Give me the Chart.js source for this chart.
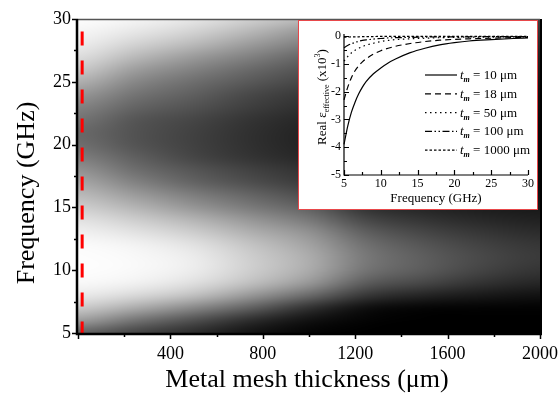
<!DOCTYPE html>
<html>
<head>
<meta charset="utf-8">
<script src="https://cdn.jsdelivr.net/npm/chart.js@4.4.1/dist/chart.umd.min.js"></script>
<style>
  html, body { margin: 0; padding: 0; background: #fff; }
  #wrap { position: relative; width: 560px; height: 396px; }
  #inset { position: absolute; left: 298px; top: 20px; width: 238px; height: 188px; border: 1px solid #e8474a; background: #fff; }
  canvas { display: block; }
</style>
</head>
<body>
<div id="wrap">
  <canvas id="mainChart" width="560" height="396"></canvas>
  <div id="inset"><canvas id="insetChart" width="238" height="188"></canvas></div>
</div>
<script>
// main map: gray level (0 black .. 255 white) per thickness column, rows are frequencies 5..30 GHz
const thickness = [0, 250, 500, 750, 1000, 1250, 1500, 1750, 2000];
const frequency = [5, 6, 7, 8, 9, 10, 11, 12, 13, 14, 15, 16, 17, 18, 19, 20, 21, 22, 23, 24, 25, 26, 27, 28, 29, 30];
const gray = [
    [100, 155, 200, 232, 248, 253, 253, 250, 240, 225, 205, 185, 165, 145, 125, 110, 105, 115, 130, 150, 175, 200, 220, 235, 245, 252],
    [70, 115, 170, 215, 240, 248, 248, 242, 226, 205, 180, 155, 130, 110, 95, 84, 82, 86, 100, 116, 135, 158, 185, 210, 230, 243],
    [45, 80, 135, 190, 222, 235, 235, 225, 205, 180, 150, 125, 100, 85, 70, 65, 65, 70, 82, 95, 110, 130, 155, 185, 210, 228],
    [20, 45, 95, 150, 190, 205, 205, 195, 175, 150, 122, 100, 78, 65, 52, 48, 48, 52, 62, 72, 88, 105, 128, 155, 182, 205],
    [5, 18, 50, 105, 150, 170, 172, 162, 145, 120, 95, 75, 58, 48, 38, 34, 34, 38, 46, 55, 68, 82, 100, 125, 150, 180],
    [0, 4, 16, 55, 92, 115, 120, 112, 95, 72, 50, 40, 32, 26, 22, 20, 20, 24, 30, 38, 48, 60, 75, 95, 118, 140],
    [0, 0, 6, 36, 70, 90, 93, 85, 70, 52, 36, 28, 22, 18, 15, 14, 14, 16, 20, 26, 34, 44, 56, 70, 88, 105],
    [0, 0, 4, 25, 50, 67, 72, 66, 54, 40, 28, 20, 16, 13, 11, 10, 10, 12, 15, 20, 26, 33, 42, 52, 64, 78],
    [0, 0, 3, 18, 38, 52, 58, 54, 44, 33, 24, 16, 12, 10, 8, 8, 8, 9, 12, 15, 20, 26, 32, 40, 50, 60]
];
const markerThickness = 18;
const markerFreq = [29, 5];

// inset: real effective permittivity (x10^3) vs frequency
const insetFreq = [5, 5.5, 6, 6.5, 7, 7.5, 8, 9, 10, 11, 12, 14, 16, 18, 20, 22, 25, 28, 30];
const eps10 = [-3.9, -3.25, -2.75, -2.38, -2.08, -1.84, -1.64, -1.36, -1.15, -0.97, -0.83, -0.6, -0.44, -0.32, -0.24, -0.18, -0.13, -0.09, -0.07];
const eps18 = [-2.3, -1.85, -1.5, -1.25, -1.07, -0.93, -0.82, -0.65, -0.53, -0.44, -0.37, -0.27, -0.2, -0.15, -0.12, -0.1, -0.08, -0.06, -0.05];
const eps50 = [-0.9, -0.74, -0.61, -0.51, -0.44, -0.38, -0.33, -0.26, -0.2, -0.16, -0.13, -0.1, -0.08, -0.06, -0.05, -0.04, -0.04, -0.03, -0.03];
const eps100 = [-0.42, -0.34, -0.28, -0.23, -0.19, -0.16, -0.14, -0.11, -0.09, -0.07, -0.06, -0.05, -0.04, -0.03, -0.03, -0.03, -0.02, -0.02, -0.02];
const eps1000 = [-0.04, -0.04, -0.03, -0.03, -0.03, -0.02, -0.02, -0.02, -0.01, -0.01, -0.01, -0.01, -0.01, -0.01, -0.01, -0.01, -0.01, -0.01, -0.01];
const insetLabels = ['10', '18', '50', '100', '1000'];

const SERIF = "'Liberation Serif', 'Times New Roman', serif";

function locate(arr, v) {
    const n = arr.length - 1;
    if (v <= arr[0]) return [0, 0];
    if (v >= arr[n]) return [n - 1, 1];
    let i = 0;
    while (arr[i + 1] < v) i++;
    return [i, (v - arr[i]) / (arr[i + 1] - arr[i])];
}

function cubic(p0, p1, p2, p3, t) {
    return p1 + 0.5 * t * (p2 - p0 + t * (2 * p0 - 5 * p1 + 4 * p2 - p3 + t * (3 * (p1 - p2) + p3 - p0)));
}

function sampleGray(t, f) {
    const [ci, cu] = locate(thickness, t);
    const [ri, rv] = locate(frequency, f);
    const nc = thickness.length - 1, nr = frequency.length - 1;
    const col = k => gray[Math.max(0, Math.min(nc, k))];
    const rowVal = c => {
        const r = k => c[Math.max(0, Math.min(nr, k))];
        return cubic(r(ri - 1), r(ri), r(ri + 1), r(ri + 2), rv);
    };
    const v = cubic(rowVal(col(ci - 1)), rowVal(col(ci)), rowVal(col(ci + 1)), rowVal(col(ci + 2)), cu);
    return Math.max(0, Math.min(255, v));
}

// keep the plot area where the reference has it
function noScalePadding(s) {
    s.paddingLeft = 0; s.paddingRight = 0; s.paddingTop = 0; s.paddingBottom = 0;
}

const heatmapPlugin = {
    id: 'heatmap',
    beforeDraw(chart) {
        const area = chart.chartArea;
        const xs = chart.scales.x, ys = chart.scales.y;
        const w = Math.round(area.right - area.left), h = Math.round(area.bottom - area.top);
        const off = document.createElement('canvas');
        off.width = w; off.height = h;
        const octx = off.getContext('2d');
        const img = octx.createImageData(w, h);
        for (let j = 0; j < h; j++) {
            const f = ys.getValueForPixel(area.top + j + 0.5);
            for (let i = 0; i < w; i++) {
                const t = xs.getValueForPixel(area.left + i + 0.5);
                const g = sampleGray(t, f);
                const k = (j * w + i) * 4;
                img.data[k] = g; img.data[k + 1] = g; img.data[k + 2] = g; img.data[k + 3] = 255;
            }
        }
        octx.putImageData(img, 0, 0);
        chart.ctx.drawImage(off, area.left, area.top);
    },
    afterDraw(chart) {
        const ctx = chart.ctx;
        const area = chart.chartArea;
        const xs = chart.scales.x, ys = chart.scales.y;
        ctx.save();
        ctx.strokeStyle = '#000';
        ctx.lineWidth = 1.5;
        ctx.beginPath();
        for (let v = 0; v <= 2000; v += 200) {
            const px = Math.round(xs.getPixelForValue(v)) + 0.5;
            const len = v % 400 === 0 ? 6 : 4;
            ctx.moveTo(px, area.bottom);
            ctx.lineTo(px, area.bottom + len);
        }
        for (let v = 5; v <= 30; v += 2.5) {
            const py = Math.round(ys.getPixelForValue(v)) + 0.5;
            const len = v % 5 === 0 ? 6 : 4;
            ctx.moveTo(area.left, py);
            ctx.lineTo(area.left - len, py);
        }
        ctx.stroke();
        // frame
        ctx.lineWidth = 1.5;
        ctx.strokeStyle = '#555';
        ctx.beginPath();
        ctx.moveTo(area.left, area.top + 0.5);
        ctx.lineTo(area.right, area.top + 0.5);
        ctx.stroke();
        ctx.strokeStyle = '#000';
        ctx.lineWidth = 2;
        ctx.beginPath();
        ctx.moveTo(area.right + 1, area.top);
        ctx.lineTo(area.right + 1, area.bottom);
        ctx.stroke();
        ctx.lineWidth = 2.5;
        ctx.beginPath();
        ctx.moveTo(area.left - 1, area.top);
        ctx.lineTo(area.left - 1, area.bottom + 1);
        ctx.lineTo(area.right + 2, area.bottom + 1);
        ctx.stroke();
        // axis titles
        ctx.fillStyle = '#000';
        ctx.font = '26px ' + SERIF;
        ctx.textAlign = 'center';
        ctx.textBaseline = 'middle';
        ctx.fillText('Metal mesh thickness (\u03bcm)', 307, 380);
        ctx.translate(27, 193);
        ctx.rotate(-Math.PI / 2);
        ctx.fillText('Frequency (GHz)', 0, 0);
        ctx.restore();
    }
};

new Chart(document.getElementById('mainChart'), {
    type: 'scatter',
    data: {
        datasets: [{
            label: 'marker',
            data: markerFreq.map(f => ({ x: markerThickness, y: f })),
            showLine: true,
            borderColor: '#ff0000',
            borderWidth: 3,
            borderDash: [14, 15],
            pointRadius: 0
        }]
    },
    options: {
        responsive: false,
        animation: false,
        layout: { padding: { left: 0, right: 20, top: 19, bottom: 0 } },
        scales: {
            x: {
                type: 'linear', min: 0, max: 2000,
                grid: { display: false, drawTicks: false },
                border: { display: false },
                afterFit: s => { s.height = 63; noScalePadding(s); },
                ticks: {
                    stepSize: 200, autoSkip: false, maxRotation: 0, padding: 10,
                    color: '#000', font: { family: SERIF, size: 18 },
                    callback: v => (v % 400 === 0 && v !== 0) ? String(v) : ''
                }
            },
            y: {
                type: 'linear', min: 5, max: 30,
                grid: { display: false, drawTicks: false },
                border: { display: false },
                afterFit: s => { s.width = 78; noScalePadding(s); },
                ticks: {
                    stepSize: 2.5, autoSkip: false, padding: 7,
                    color: '#000', font: { family: SERIF, size: 18 },
                    callback: v => v % 5 === 0 ? String(v) : ''
                }
            }
        },
        plugins: { legend: { display: false }, tooltip: { enabled: false } }
    },
    plugins: [heatmapPlugin]
});

// inset
const insetStyles = [
    { data: eps10, dash: [] },
    { data: eps18, dash: [6, 4] },
    { data: eps50, dash: [1.5, 3.5] },
    { data: eps100, dash: [7, 2.5, 1.5, 2.5, 1.5, 2.5] },
    { data: eps1000, dash: [2.5, 2] }
];

const insetDeco = {
    id: 'insetDeco',
    afterDraw(chart) {
        const ctx = chart.ctx;
        const area = chart.chartArea;
        const xs = chart.scales.x, ys = chart.scales.y;
        ctx.save();
        ctx.strokeStyle = '#000';
        ctx.lineWidth = 1.2;
        ctx.beginPath();
        ctx.moveTo(area.left, area.top - 2);
        ctx.lineTo(area.left, area.bottom);
        ctx.lineTo(area.right, area.bottom);
        for (let v = 5; v <= 30; v += 2.5) {
            const px = Math.round(xs.getPixelForValue(v)) + 0.5;
            const len = v % 5 === 0 ? 5 : 3;
            ctx.moveTo(px, area.bottom);
            ctx.lineTo(px, area.bottom - len);
        }
        for (let v = -5; v <= 0; v += 0.5) {
            const py = Math.round(ys.getPixelForValue(v)) + 0.5;
            const len = Number.isInteger(v) ? 5 : 3;
            ctx.moveTo(area.left, py);
            ctx.lineTo(area.left + len, py);
        }
        ctx.stroke();

        ctx.fillStyle = '#000';
        ctx.textBaseline = 'alphabetic';
        // x title
        ctx.font = '13px ' + SERIF;
        ctx.textAlign = 'center';
        ctx.fillText('Frequency (GHz)', (area.left + area.right) / 2, 181);

        // y title, rotated, with subscript and superscript
        const parts = [
            { t: 'Real \u03b5', f: '13px ' + SERIF, dy: 0 },
            { t: 'effective', f: '8px ' + SERIF, dy: 3 },
            { t: ' (x10', f: '13px ' + SERIF, dy: 0 },
            { t: '3', f: '8px ' + SERIF, dy: -6 },
            { t: ')', f: '13px ' + SERIF, dy: 0 }
        ];
        let total = 0;
        parts.forEach(p => { ctx.font = p.f; p.w = ctx.measureText(p.t).width; total += p.w; });
        ctx.translate(23, 76);
        ctx.rotate(-Math.PI / 2);
        ctx.textAlign = 'left';
        let cx = -total / 2;
        parts.forEach(p => { ctx.font = p.f; ctx.fillText(p.t, cx, 4 + p.dy); cx += p.w; });
        ctx.setTransform(1, 0, 0, 1, 0, 0);

        // legend
        insetStyles.forEach((s, i) => {
            const y = 54 + i * 18.8;
            ctx.setLineDash(s.dash);
            ctx.lineWidth = 1.2;
            ctx.beginPath();
            ctx.moveTo(126, y);
            ctx.lineTo(158, y);
            ctx.stroke();
            ctx.setLineDash([]);
            let x = 161;
            ctx.textAlign = 'left';
            ctx.font = 'italic 13px ' + SERIF;
            ctx.fillText('t', x, y + 4);
            x += ctx.measureText('t').width;
            ctx.font = 'italic bold 8px ' + SERIF;
            ctx.fillText('m', x, y + 7);
            x += ctx.measureText('m').width;
            ctx.font = '13px ' + SERIF;
            ctx.fillText(' = ' + insetLabels[i] + ' \u03bcm', x, y + 4);
        });
        ctx.restore();
    }
};

new Chart(document.getElementById('insetChart'), {
    type: 'line',
    data: {
        datasets: insetStyles.map((s, i) => ({
            label: insetLabels[i],
            data: insetFreq.map((f, k) => ({ x: f, y: s.data[k] })),
            borderColor: '#000',
            borderWidth: 1.2,
            borderDash: s.dash,
            pointRadius: 0,
            cubicInterpolationMode: 'monotone',
            clip: 3
        }))
    },
    options: {
        responsive: false,
        animation: false,
        layout: { padding: { left: 0, right: 9, top: 15, bottom: 0 } },
        scales: {
            x: {
                type: 'linear', min: 5, max: 30,
                grid: { display: false, drawTicks: false },
                border: { display: false },
                afterFit: s => { s.height = 34; noScalePadding(s); },
                ticks: {
                    stepSize: 2.5, autoSkip: false, maxRotation: 0, padding: 2,
                    color: '#000', font: { family: SERIF, size: 12 },
                    callback: v => v % 5 === 0 ? String(v) : ''
                }
            },
            y: {
                type: 'linear', min: -5, max: 0,
                grid: { display: false, drawTicks: false },
                border: { display: false },
                afterFit: s => { s.width = 45; noScalePadding(s); },
                ticks: {
                    stepSize: 0.5, autoSkip: false, padding: 3,
                    color: '#000', font: { family: SERIF, size: 12 },
                    callback: v => Number.isInteger(v) ? String(v) : ''
                }
            }
        },
        plugins: { legend: { display: false }, tooltip: { enabled: false } }
    },
    plugins: [insetDeco]
});
</script>
</body>
</html>
